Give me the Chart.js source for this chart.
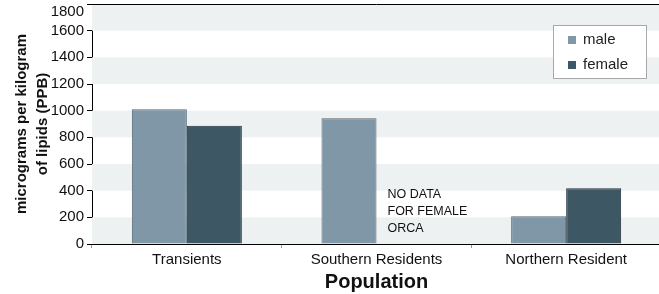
<!DOCTYPE html>
<html><head><meta charset="utf-8">
<script src="https://cdn.jsdelivr.net/npm/chart.js@4/dist/chart.umd.min.js"></script>
<style>
html,body{margin:0;padding:0;overflow:hidden;background:#fff;width:659px;height:294px}
#wrap{position:relative;width:664px;height:294px}
canvas{display:block}
</style></head><body>
<div id="wrap"><canvas id="c" width="664" height="294"></canvas></div>
<script>
// ---- data ----
const categories = ['Transients', 'Southern Residents', 'Northern Resident'];
const seriesNames = ['male', 'female'];
const maleValues = [1010, 943, 208];
const femaleValues = [886, null, 418];
const yTicks = [0, 200, 400, 600, 800, 1000, 1200, 1400, 1600, 1800];
const noteLines = ['NO DATA', 'FOR FEMALE', 'ORCA'];
const noteCategoryIndex = 1;
const noteTopValue = 370;
const yTitleLines = ['micrograms per kilogram', 'of lipids (PPB)'];
const xTitleText = 'Population';

// ---- styles ----
const colors = { male: '#7f97a7', female: '#3d5764' };
const borders = { male: '#55656e', female: '#22323a' };
const bandColor = '#eef1f2';

function hasFont(name) {
  const c = document.createElement('canvas').getContext('2d');
  const s = 'mmmmWWWiiilll 0123456789';
  c.font = '40px monospace'; const a = c.measureText(s).width;
  c.font = '40px "' + name + '", monospace'; const b = c.measureText(s).width;
  c.font = '40px serif'; const d = c.measureText(s).width;
  c.font = '40px "' + name + '", serif'; const e = c.measureText(s).width;
  return a !== b || d !== e;
}
const SANS = "'Liberation Sans', Arial, sans-serif";
const narrowOK = hasFont('Liberation Sans Narrow');
const NARROW = narrowOK ? "'Liberation Sans Narrow', 'Arial Narrow', sans-serif" : SANS;
const yTickSize = narrowOK ? 17 : 15;
const noteSize = narrowOK ? 14 : 12.5;

Chart.defaults.font.family = SANS;
Chart.defaults.color = '#111';

const bandsPlugin = {
  id: 'bands',
  beforeDatasetsDraw(chart) {
    const { ctx, chartArea: a, scales: { y } } = chart;
    ctx.save();
    ctx.fillStyle = bandColor;
    for (let i = 0; i < yTicks.length - 1; i += 2) {
      const y1 = y.getPixelForValue(yTicks[i]);
      const y2 = y.getPixelForValue(yTicks[i + 1]);
      ctx.fillRect(a.left, y2, a.right - a.left, y1 - y2);
    }
    ctx.restore();
  },
  afterDatasetsDraw(chart) {
    const { ctx, chartArea: a } = chart;
    ctx.save();
    ctx.strokeStyle = '#000';
    ctx.lineWidth = 1;
    ctx.beginPath();
    ctx.moveTo(a.left, a.top + 0.5);
    ctx.lineTo(a.right, a.top + 0.5);
    ctx.stroke();
    ctx.restore();
  }
};

const notePlugin = {
  id: 'note',
  afterDatasetsDraw(chart) {
    const { ctx, scales: { y } } = chart;
    const meta = chart.getDatasetMeta(0);
    const bar = meta.data[noteCategoryIndex];
    const left = bar.x + bar.width / 2 + 11;
    const top = y.getPixelForValue(noteTopValue);
    ctx.save();
    ctx.font = noteSize + 'px ' + NARROW;
    ctx.fillStyle = '#111';
    ctx.textBaseline = 'middle';
    ctx.textAlign = 'left';
    noteLines.forEach((t, i) => ctx.fillText(t, left, top + i * 16.7));
    ctx.restore();
  }
};

const legendPlugin = {
  id: 'boxLegend',
  afterDraw(chart) {
    const { ctx, chartArea: a } = chart;
    const bx = a.right - 108, by = a.top + 21, bw = 93, bh = 53;
    ctx.save();
    ctx.fillStyle = '#fff';
    ctx.fillRect(bx, by, bw, bh);
    ctx.strokeStyle = '#a8a8a8';
    ctx.lineWidth = 1;
    ctx.strokeRect(bx + 0.5, by + 0.5, bw, bh);
    ctx.font = '15px ' + SANS;
    ctx.textBaseline = 'middle';
    ctx.textAlign = 'left';
    chart.data.datasets.forEach((ds, i) => {
      const cy = by + 15 + i * 25;
      ctx.fillStyle = ds.backgroundColor;
      ctx.fillRect(bx + 15, cy - 4, 8, 8);
      ctx.fillStyle = '#222';
      ctx.fillText(ds.label, bx + 30, cy);
    });
    ctx.restore();
  }
};

new Chart(document.getElementById('c'), {
  type: 'bar',
  data: {
    labels: categories,
    datasets: [
      { label: seriesNames[0], data: maleValues, backgroundColor: colors.male, borderColor: borders.male, borderWidth: 1 },
      { label: seriesNames[1], data: femaleValues, backgroundColor: colors.female, borderColor: borders.female, borderWidth: 1 }
    ]
  },
  options: {
    responsive: false,
    animation: false,
    layout: { padding: { top: 4, right: 3, left: 0, bottom: 0 } },
    datasets: { bar: { categoryPercentage: 0.58, barPercentage: 1.0 } },
    plugins: { legend: { display: false }, tooltip: { enabled: false } },
    scales: {
      x: {
        grid: { display: true, offset: true, drawOnChartArea: false, drawTicks: true, tickLength: 4, color: '#999' },
        border: { display: true, color: '#000', width: 1 },
        ticks: { font: { size: 15 }, padding: 3, color: '#111', maxRotation: 0, autoSkip: false },
        title: { display: true, text: xTitleText, font: { size: 20, weight: 'bold', lineHeight: 1.2 }, padding: { top: 0, bottom: 0 }, color: '#111' },
        afterFit(s) { s.height = 50; s.paddingLeft = 0; s.paddingRight = 0; }
      },
      y: {
        min: 0, max: 1800,
        afterBuildTicks(s) { s.ticks = yTicks.map(v => ({ value: v })); },
        grid: { display: true, drawOnChartArea: false, drawTicks: true, tickLength: 5, color: '#000' },
        border: { display: true, color: '#000', width: 1 },
        ticks: {
          font: { size: yTickSize, family: NARROW, lineHeight: 1.0 },
          padding: 3, color: '#111', autoSkip: false,
          callback(v) { return v === yTicks[yTicks.length - 1] ? ['', String(v)] : String(v); }
        },
        title: { display: true, text: yTitleLines, font: { size: 15, weight: 'bold', lineHeight: 1.4 }, padding: { top: 11, bottom: 0 }, color: '#111' },
        afterFit(s) { s.width = 92; s.paddingTop = 0; s.paddingBottom = 0; }
      }
    }
  },
  plugins: [bandsPlugin, notePlugin, legendPlugin]
});
</script>
</body></html>
